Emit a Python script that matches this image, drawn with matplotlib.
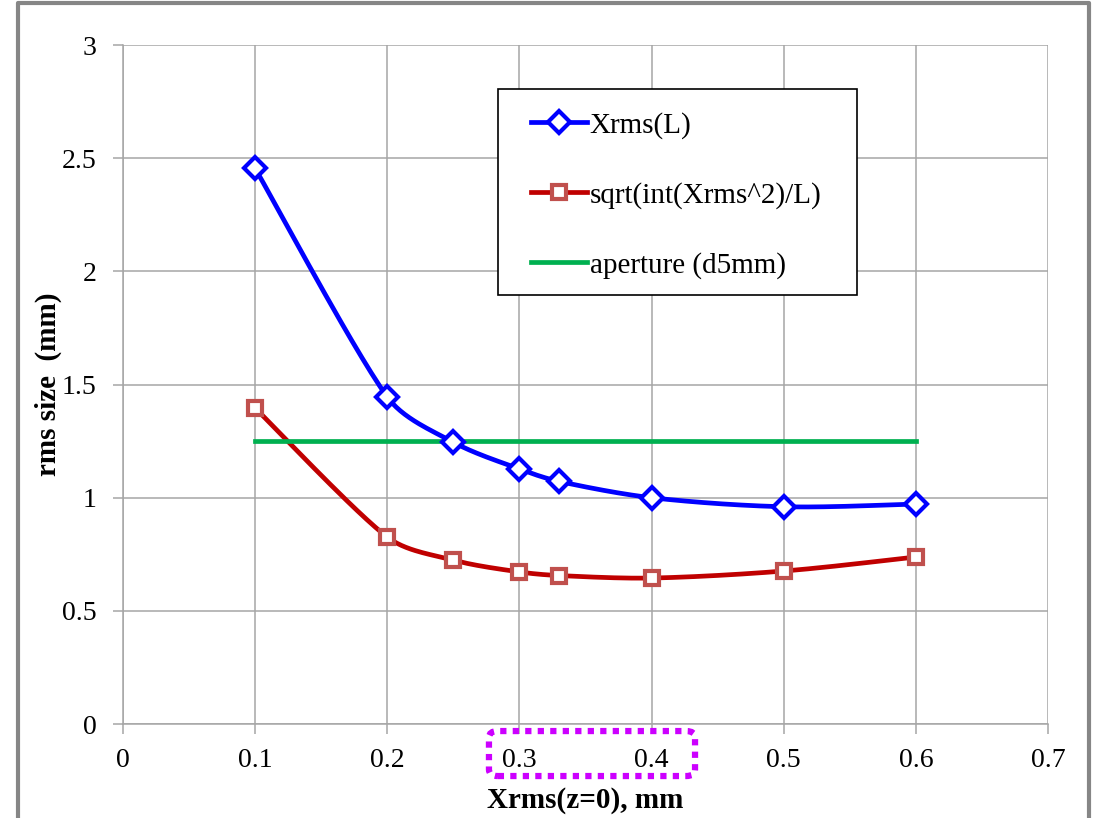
import numpy as np
import matplotlib.pyplot as plt
from matplotlib.patches import FancyBboxPatch, Rectangle
from matplotlib.lines import Line2D

plt.rcParams['font.family'] = ['Liberation Serif', 'DejaVu Serif']

# data
xrms0 = [0.1, 0.2, 0.25, 0.3, 0.33, 0.4, 0.5, 0.6]
xrms_L = [2.455, 1.445, 1.245, 1.127, 1.072, 1.0, 0.96, 0.972]
sqrt_int = [1.396, 0.826, 0.724, 0.672, 0.656, 0.645, 0.676, 0.738]
aperture_x = [0.1, 0.6]
aperture_y = [1.25, 1.25]

x_ticks = [0, 0.1, 0.2, 0.3, 0.4, 0.5, 0.6, 0.7]
y_ticks = [0, 0.5, 1, 1.5, 2, 2.5, 3]
labels = ['Xrms(L)', 'sqrt(int(Xrms^2)/L)', 'aperture (d5mm)']


def excel_smooth(x, y, sx=1322.0, sy=226.3, n=30):
    # catmull-rom style bezier in screen-ish space, arms shortened next to short segments
    p = np.column_stack([np.asarray(x) * sx, np.asarray(y) * sy])
    d = np.linalg.norm(np.diff(p, axis=0), axis=1)
    out = [p[0]]
    for i in range(len(p) - 1):
        p1, p2 = p[i], p[i + 1]
        if i > 0:
            k = min(1.0, 2 * d[i] / (d[i - 1] + d[i]))
            c1 = p1 + (p2 - p[i - 1]) / 6.0 * k
        else:
            c1 = p1 + (p2 - p1) / 6.0
        if i + 2 < len(p):
            k = min(1.0, 2 * d[i] / (d[i] + d[i + 1]))
            c2 = p2 - (p[i + 2] - p1) / 6.0 * k
        else:
            c2 = p2 - (p2 - p1) / 6.0
        t = np.linspace(0, 1, n)[1:, None]
        seg = ((1 - t) ** 3) * p1 + 3 * ((1 - t) ** 2) * t * c1 + 3 * (1 - t) * t ** 2 * c2 + t ** 3 * p2
        out.extend(seg)
    out = np.array(out)
    return out[:, 0] / sx, out[:, 1] / sy


fig = plt.figure(figsize=(11.02, 8.18), dpi=100)
ax = fig.add_axes([0.1116, 0.1149, 0.8394, 0.83])

blue = '#0000ff'
red = '#c00000'
red_mk = '#c0504d'
green = '#00b050'
grid_c = '#a6a6a6'

bx, by = excel_smooth(xrms0, xrms_L)
rx, ry = excel_smooth(xrms0, sqrt_int)
ax.plot(bx, by, color=blue, lw=3.4, zorder=3)
ax.plot(xrms0, xrms_L, ls='none', marker='D', ms=11, mfc='white', mec=blue, mew=3, zorder=4)
ax.plot(rx, ry, color=red, lw=3.4, zorder=3)
ax.plot(xrms0, sqrt_int, ls='none', marker='s', ms=10, mfc='white', mec=red_mk, mew=3, zorder=4)
ax.plot(aperture_x, aperture_y, color=green, lw=3.4, zorder=3)

ax.set_xlim(0, 0.7)
ax.set_ylim(0, 3)
ax.set_xticks(x_ticks)
ax.set_yticks(y_ticks)
ax.set_xticklabels([f'{v:g}' for v in x_ticks])
ax.set_yticklabels([f'{v:g}' for v in y_ticks])
ax.grid(True, color=grid_c, lw=1.1)
ax.set_axisbelow(True)
for s in ['top', 'right']:
    ax.spines[s].set_visible(False)
for s in ['left', 'bottom']:
    ax.spines[s].set_color(grid_c)
    ax.spines[s].set_linewidth(1.1)
ax.tick_params(axis='both', direction='out', length=7, width=1.1, color=grid_c, labelsize=20)
ax.tick_params(axis='y', pad=12)
ax.tick_params(axis='x', pad=10)

ax.set_xlabel('Xrms(z=0), mm', fontsize=21, fontweight='bold', labelpad=10)
ax.set_ylabel('rms size  (mm)', fontsize=21, fontweight='bold', labelpad=0)

# legend: frame drawn separately so the inner padding can match
ax.add_patch(Rectangle((0.405, 0.632), 0.389, 0.303, transform=ax.transAxes,
                       facecolor='white', edgecolor='black', lw=1.2, zorder=5))
handles = [
    Line2D([], [], color=blue, lw=3.4, marker='D', ms=11, mfc='white', mec=blue, mew=3),
    Line2D([], [], color=red, lw=3.4, marker='s', ms=10, mfc='white', mec=red_mk, mew=3),
    Line2D([], [], color=green, lw=3.4),
]
leg = ax.legend(handles, labels, loc='upper left', bbox_to_anchor=(0.441, 0.902),
                fontsize=21, frameon=False,
                handlelength=1.92, handletextpad=0.1, labelspacing=1.48,
                borderpad=0, borderaxespad=0)
leg.set_zorder(6)

# dotted magenta highlight around the 0.3 / 0.4 tick labels
hl = FancyBboxPatch((0.4437, 0.0513), 0.187, 0.055, transform=fig.transFigure,
                    boxstyle='round,pad=0,rounding_size=0.008', fill=False,
                    edgecolor='#cc00ff', lw=4.5, ls=(0, (1, 1)), clip_on=False)
fig.patches.append(hl)

# outer chart frame
fx0, fx1, fy1 = 0.0163, 0.988, 0.9963
fig.add_artist(Line2D([fx0, fx0, fx1, fx1], [-0.01, fy1, fy1, -0.01],
                      transform=fig.transFigure, color='#868686', lw=3))

fig.savefig('out.png', dpi=100)
